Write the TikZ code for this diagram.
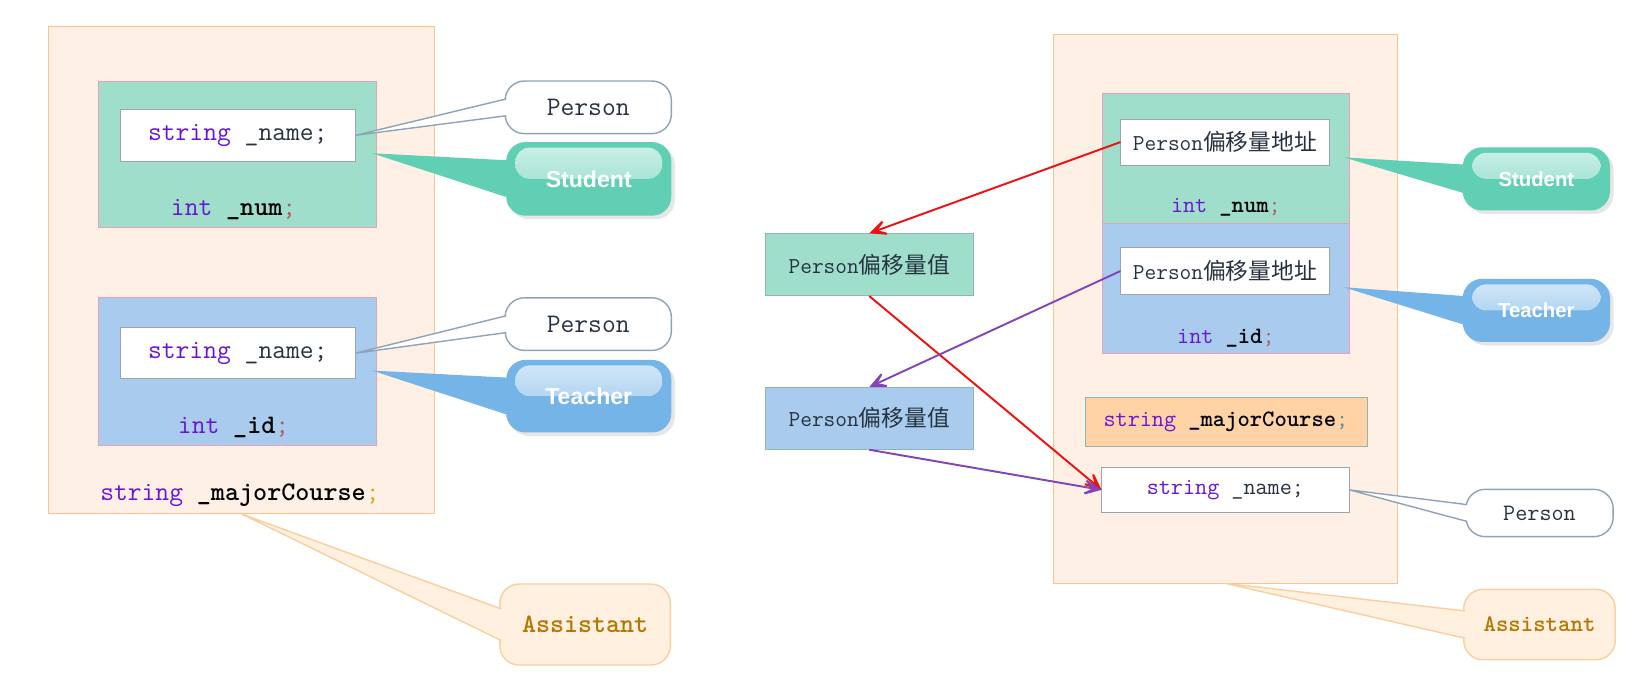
\documentclass[tikz,border=0pt]{standalone}
\usepackage{fontspec}
\setmainfont{Liberation Serif}
\setsansfont{Liberation Sans}
\newfontfamily\cjk{Noto Sans CJK SC}
\usetikzlibrary{arrows.meta,shadows,calc}

\definecolor{asstfill}{HTML}{FFF0E5}
\definecolor{asstline}{HTML}{F8C68A}
\definecolor{stufill}{HTML}{9FDECB}
\definecolor{teafill}{HTML}{A8CBEE}
\definecolor{pinkline}{HTML}{E9A1BA}
\definecolor{grayline}{HTML}{9AA6B2}
\definecolor{tealline}{HTML}{8FB5B5}
\definecolor{majorfill}{HTML}{FFD3A6}
\definecolor{perline}{HTML}{8FA3B8}
\definecolor{stucall}{HTML}{60CFB3}
\definecolor{teacall}{HTML}{74B4E7}
\definecolor{asstcallfill}{HTML}{FFF0E0}
\definecolor{asstcallline}{HTML}{F9CF9E}
\definecolor{assttext}{HTML}{B57700}
\definecolor{kwcol}{HTML}{6A14D6}
\definecolor{codecol}{HTML}{26323F}
\definecolor{semired}{HTML}{B25A5A}
\definecolor{semiorange}{HTML}{E0A020}
\definecolor{semiteal}{HTML}{5D8E9A}
\definecolor{redline}{HTML}{EE1111}
\definecolor{purpline}{HTML}{8444B8}

\newcommand\kw[1]{\textcolor{kwcol}{#1}}
\newcommand\fld[1]{\textcolor{black}{\bfseries #1}}
% pointer of a callout: tip, callout, half width, fill, line
\newcommand\pointer[5]{%
  \fill[#4] (#1) -- ([shift={(2pt,#3)}]#2.west) -- ([shift={(2pt,-#3)}]#2.west) -- cycle;
  \draw[#5, line width=0.8pt] ([shift={(1pt,#3)}]#2.west) -- (#1) -- ([shift={(1pt,-#3)}]#2.west);}

\tikzset{
  asstbox/.style={draw=asstline, fill=asstfill, inner sep=0pt},
  stubox/.style={draw=pinkline, fill=stufill, inner sep=0pt},
  teabox/.style={draw=pinkline, fill=teafill, inner sep=0pt},
  namebox/.style={draw=grayline, fill=white, inner sep=0pt, text=codecol},
  valbox/.style={draw=tealline, fill=#1, inner sep=0pt, text=codecol},
  codeL/.style={text=codecol, font=\ttfamily\fontsize{14.5}{17}\selectfont},
  codeR/.style={text=codecol, font=\ttfamily\fontsize{12.7}{15}\selectfont},
  addrtext/.style={text=codecol, font=\fontsize{12.3}{15}\selectfont},
  personcall/.style={draw=perline, line width=0.8pt, fill=white, rounded corners=11pt, inner sep=0pt},
  asstcall/.style={draw=asstcallline, line width=0.8pt, fill=asstcallfill, rounded corners=11pt,
    inner sep=0pt, text=assttext},
  tagcall/.style={fill=#1, rounded corners=11pt, inner sep=0pt, text=white,
    drop shadow={opacity=0.2, shadow xshift=2pt, shadow yshift=-2pt},
    path picture={\shade[top color=white!70!#1, bottom color=#1!80!white, rounded corners=8pt]
      ([shift={(5pt,-3pt)}]path picture bounding box.north west) rectangle
      ($(path picture bounding box.north east)!0.5!(path picture bounding box.south east)+(-5pt,0)$);}},
  redarrow/.style={draw=redline, line width=1.1pt, -{Stealth[length=0.5cm, width=0.46cm, inset=0.32cm]}},
  purparrow/.style={draw=purpline, line width=1.1pt, -{Stealth[length=0.5cm, width=0.46cm, inset=0.32cm]}},
}

\begin{document}
\begin{tikzpicture}[x=0.02cm, y=-0.02cm, scale=1.0523, transform shape]
    \useasboundingbox (0,0) rectangle (1568,654);

    % left: the Assistant object
    \node[asstbox, minimum width=7.34cm, minimum height=9.26cm] (LAsst) at (229.5,256.5) {};
    \node[stubox, minimum width=5.3cm, minimum height=2.78cm] (LStu) at (225.5,146.5) {};
    \node[namebox, codeL, minimum width=4.48cm, minimum height=0.98cm] (LStuName) at (226,128.5) {\kw{string} \_name;};
    \node[codeL] (LNum) at (222,199) {\kw{int} \fld{\_num}\textcolor{semired}{;}};
    \node[teabox, minimum width=5.3cm, minimum height=2.8cm] (LTea) at (225.5,353) {};
    \node[namebox, codeL, minimum width=4.48cm, minimum height=0.98cm] (LTeaName) at (226,335.5) {\kw{string} \_name;};
    \node[codeL] (LId) at (222,406) {\kw{int} \fld{\_id}\textcolor{semired}{;}};
    \node[codeL] (LMajor) at (228,471) {\kw{string} \fld{\_majorCourse}\textcolor{semiorange}{;}};

    % left: callouts
    \node[personcall, codeL, minimum width=3.16cm, minimum height=1cm] (LPerA) at (559,102) {Person};
    \pointer{LStuName.east}{LPerA}{0.16cm}{white}{perline}
    \node[tagcall=stucall, font=\sffamily\bfseries\fontsize{12.5}{15}\selectfont,
        minimum width=3.14cm, minimum height=1.4cm] (LStuCall) at (559.5,170) {Student};
    \pointer{LStu.east}{LStuCall}{0.34cm}{stucall}{stucall}
    \node[personcall, codeL, minimum width=3.16cm, minimum height=1cm] (LPerB) at (559,308) {Person};
    \pointer{LTeaName.east}{LPerB}{0.16cm}{white}{perline}
    \node[tagcall=teacall, font=\sffamily\bfseries\fontsize{12.5}{15}\selectfont,
        minimum width=3.14cm, minimum height=1.38cm] (LTeaCall) at (559.5,376.5) {Teacher};
    \pointer{LTea.east}{LTeaCall}{0.34cm}{teacall}{teacall}
    \node[asstcall, font=\ttfamily\bfseries\fontsize{14.4}{17}\selectfont,
        minimum width=3.24cm, minimum height=1.54cm] (LAsstCall) at (556,593.5) {Assistant};
    \pointer{LAsst.south}{LAsstCall}{0.3cm}{asstcallfill}{asstcallline}

    % right: the Assistant object with virtual inheritance
    \node[asstbox, minimum width=6.54cm, minimum height=10.42cm] (RAsst) at (1164.5,293.5) {};
    \node[stubox, minimum width=4.68cm, minimum height=2.46cm] (RStu) at (1165,150.5) {};
    \node[namebox, addrtext, minimum width=3.96cm, minimum height=0.88cm]
        (RStuAddr) at (1164,135) {\ttfamily Person{\cjk 偏移量地址}};
    \node[codeR] (RNum) at (1165,197) {\kw{int} \fld{\_num}\textcolor{semired}{;}};
    \node[teabox, minimum width=4.68cm, minimum height=2.48cm] (RTea) at (1165,274) {};
    \node[namebox, addrtext, minimum width=3.96cm, minimum height=0.9cm]
        (RTeaAddr) at (1164,257.5) {\ttfamily Person{\cjk 偏移量地址}};
    \node[codeR] (RId) at (1165,321) {\kw{int} \fld{\_id}\textcolor{semired}{;}};
    \node[valbox=majorfill, codeR, minimum width=5.36cm, minimum height=0.92cm]
        (RMajor) at (1165,401) {\kw{string} \fld{\_majorCourse}\textcolor{semiteal}{;}};
    \node[namebox, codeR, minimum width=4.7cm, minimum height=0.86cm] (RName) at (1164.5,465.5) {\kw{string} \_name;};

    % right: callouts
    \node[tagcall=stucall, font=\sffamily\bfseries\fontsize{11}{13}\selectfont,
        minimum width=2.8cm, minimum height=1.2cm] (RStuCall) at (1460,170) {Student};
    \pointer{RStu.east}{RStuCall}{0.26cm}{stucall}{stucall}
    \node[tagcall=teacall, font=\sffamily\bfseries\fontsize{11}{13}\selectfont,
        minimum width=2.8cm, minimum height=1.2cm] (RTeaCall) at (1460,295) {Teacher};
    \pointer{RTea.east}{RTeaCall}{0.26cm}{teacall}{teacall}
    \node[personcall, codeR, minimum width=2.8cm, minimum height=0.9cm] (RPer) at (1463,487.5) {Person};
    \pointer{RName.east}{RPer}{0.16cm}{white}{perline}
    \node[asstcall, font=\ttfamily\bfseries\fontsize{12.8}{15}\selectfont,
        minimum width=2.88cm, minimum height=1.34cm] (RAsstCall) at (1463,593.5) {Assistant};
    \pointer{RAsst.south}{RAsstCall}{0.26cm}{asstcallfill}{asstcallline}

    % offset values
    \node[valbox=stufill, addrtext, minimum width=3.96cm, minimum height=1.18cm]
        (VStu) at (826,251.5) {\ttfamily Person{\cjk 偏移量值}};
    \node[valbox=teafill, addrtext, minimum width=3.96cm, minimum height=1.18cm]
        (VTea) at (826,397.5) {\ttfamily Person{\cjk 偏移量值}};

    \draw[redarrow] (RStuAddr.west) -- (VStu.north);
    \draw[redarrow] (VStu.south) -- (RName.west);
    \draw[purparrow] (RTeaAddr.west) -- (VTea.north);
    \draw[purparrow] (VTea.south) -- (RName.west);

\end{tikzpicture}
\end{document}
